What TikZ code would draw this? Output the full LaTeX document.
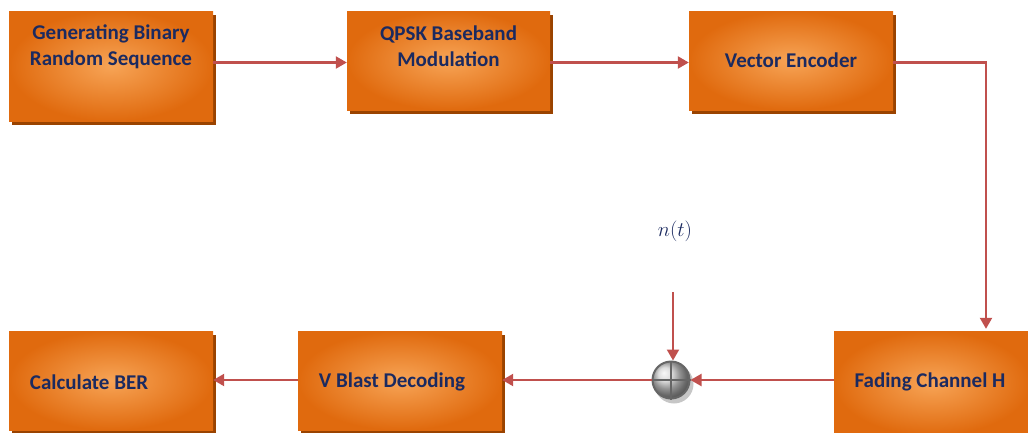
\documentclass[tikz,border=0pt]{standalone}
\usepackage{fontspec}
\setmainfont{Carlito}
\usetikzlibrary{shadows,arrows.meta,positioning}
\definecolor{boxedge}{HTML}{E06A0E}
\definecolor{boxmid}{HTML}{F7A456}
\definecolor{shadowc}{HTML}{9A4300}
\definecolor{txt}{HTML}{1B2A60}
\definecolor{arr}{HTML}{C0504D}
\tikzset{
  blk/.style={rectangle, minimum width=#1, inner sep=0pt, inner color=boxmid, outer color=boxedge,
    drop shadow={shadow xshift=3pt, shadow yshift=-4pt, opacity=1, fill=shadowc}},
  lbl/.style={text=txt, font=\fontsize{21}{26}\selectfont\bfseries, align=center},
  con/.style={draw=arr, line width=2.2pt, -{Triangle[length=11pt,width=12pt]}},
}
\begin{document}
\begin{tikzpicture}[x=1pt,y=-1pt]
\useasboundingbox (0,0) rectangle (1028,432);
\node[blk=204pt, minimum height=110pt] (b1) at (111,66) {};
\node[lbl] (t1) at (111,47) {Generating Binary\\Random Sequence};
\node[blk=203pt, minimum height=99pt] (b2) at (448.5,60.5) {};
\node[lbl] (t2) at (448.5,46) {QPSK Baseband\\Modulation};
\node[blk=204pt, minimum height=99pt] (b3) at (791,60.5) {};
\node[lbl] (t3) at (791,60) {Vector Encoder};
\node[blk=196pt, minimum height=104pt] (b4) at (932,383) {};
\node[lbl] (t4) at (930,382) {Fading Channel H};
\node[blk=204pt, minimum height=99pt] (b5) at (400,380.5) {};
\node[lbl] (t5) at (392,382) {V Blast Decoding};
\node[blk=204pt, minimum height=99pt] (b6) at (111,380.5) {};
\node[lbl] (t6) at (89,382) {Calculate BER};
% summing junction
\fill[gray!45] (674,384) circle (19.5pt);
\node[circle, minimum size=37pt, inner sep=0pt, draw=black!60, line width=2pt, shading=ball, ball color=black!18] (s) at (671,380) {};
\draw[black!60, line width=2pt] (s.north) -- (s.south) (s.west) -- (s.east);
\node[text=txt, font=\fontsize{22}{24}\selectfont] (n) at (675,231) {$n(t)$};
\coordinate (nstart) at (673,292);
\coordinate (corner) at (986,62.5);
% connectors
\draw[con] (b1.east |- 0,62.5) -- (b2.west |- 0,62.5);
\draw[con] (b2.east |- 0,62.5) -- (b3.west |- 0,62.5);
\draw[con, shorten >=2pt] (b3.east |- corner) -- (corner) -- (corner |- b4.north);
\draw[con] (b4.west |- s) -- (s.east);
\draw[con] (nstart) -- (s.north -| nstart);
\draw[con] (s.west) -- (b5.east |- s);
\draw[con] (b5.west |- s) -- (b6.east |- s);
\end{tikzpicture}
\end{document}
